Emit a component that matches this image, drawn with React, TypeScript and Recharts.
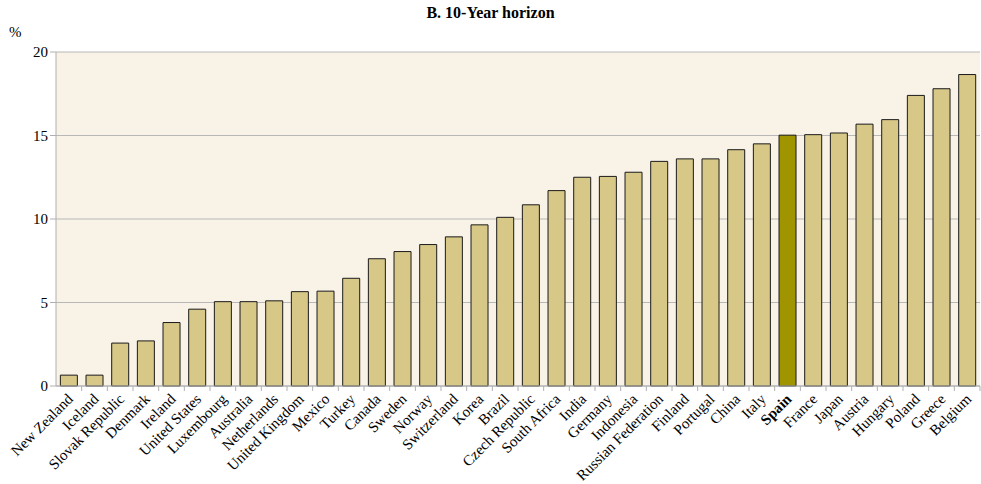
import { BarChart, Bar, Cell, XAxis, YAxis, CartesianGrid } from "recharts";

const countries = [
  "New Zealand", "Iceland", "Slovak Republic", "Denmark", "Ireland", "United States",
  "Luxembourg", "Australia", "Netherlands", "United Kingdom", "Mexico", "Turkey",
  "Canada", "Sweden", "Norway", "Switzerland", "Korea", "Brazil", "Czech Republic",
  "South Africa", "India", "Germany", "Indonesia", "Russian Federation", "Finland",
  "Portugal", "China", "Italy", "Spain", "France", "Japan", "Austria", "Hungary",
  "Poland", "Greece", "Belgium",
];

const values = [
  0.65, 0.65, 2.57, 2.7, 3.8, 4.6,
  5.05, 5.05, 5.1, 5.65, 5.68, 6.45,
  7.62, 8.05, 8.47, 8.93, 9.65, 10.1, 10.85,
  11.7, 12.5, 12.55, 12.8, 13.45, 13.6,
  13.6, 14.15, 14.5, 15.02, 15.05, 15.15, 15.68, 15.95,
  17.4, 17.8, 18.65,
];

const yTicks = [0, 5, 10, 15, 20];

const highlight = "Spain";

const data = countries.map((name, i) => ({ name, value: values[i] }));

const FONT = "'Liberation Serif', 'Times New Roman', serif";
const W = 981;
const H = 484;
const LEFT = 56;
const RIGHT = 1;
const band = (W - LEFT - RIGHT) / countries.length;

const CountryTick = (props: any) => {
  const { x, y, payload } = props;
  const bold = payload.value === highlight;
  return (
    <g>
      <line x1={x + band / 2} y1={y - 8} x2={x + band / 2} y2={y - 3} stroke="#b0b0b0" />
      <text
        x={x + 5}
        y={y + 6}
        textAnchor="end"
        transform={`rotate(-45, ${x + 5}, ${y + 6})`}
        fontFamily={FONT}
        fontSize={15}
        fontWeight={bold ? "bold" : "normal"}
        fill="#000"
      >
        {payload.value}
      </text>
    </g>
  );
};

export default function App() {
  return (
    <div style={{ position: "absolute", left: 0, top: 0, width: W, height: H, background: "#fff" }}>
      <div
        style={{
          position: "absolute",
          top: 4,
          left: 0,
          width: W,
          textAlign: "center",
          fontFamily: FONT,
          fontWeight: "bold",
          fontSize: 16,
        }}
      >
        B. 10-Year horizon
      </div>
      <div style={{ position: "absolute", top: 24, left: 9, fontFamily: FONT, fontSize: 15 }}>%</div>
      <BarChart
        width={W}
        height={H}
        data={data}
        margin={{ top: 52, right: RIGHT, bottom: 0, left: 0 }}
        barCategoryGap="17%"
      >
        <CartesianGrid
          vertical={false}
          stroke="#b8b8b8"
          fill="#f8f2e7"
          fillOpacity={1}
        />
        <XAxis
          dataKey="name"
          interval={0}
          height={98}
          axisLine={{ stroke: "#b0b0b0" }}
          tickLine={false}
          tick={<CountryTick />}
        />
        <YAxis
          domain={[0, 20]}
          ticks={yTicks}
          width={LEFT}
          axisLine={{ stroke: "#b0b0b0" }}
          tickLine={{ stroke: "#b0b0b0" }}
          tickSize={6}
          tick={{ fontFamily: FONT, fontSize: 15, fill: "#000" }}
        />
        <Bar dataKey="value" stroke="#1a1a1a" strokeWidth={1} isAnimationActive={false}>
          {data.map((d) => (
            <Cell key={d.name} fill={d.name === highlight ? "#a09400" : "#d8c888"} />
          ))}
        </Bar>
      </BarChart>
    </div>
  );
}
